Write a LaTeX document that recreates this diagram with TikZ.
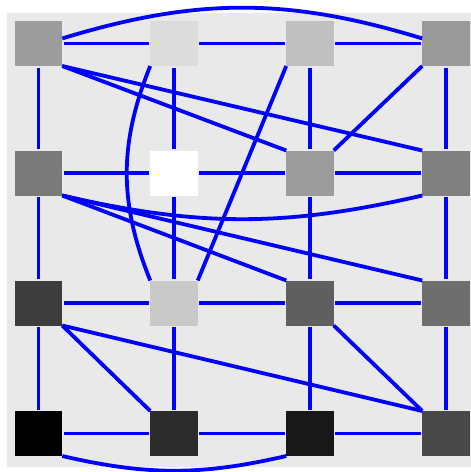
\documentclass[tikz,border=0pt]{standalone}
\begin{document}
\begin{tikzpicture}[x=1pt,y=-1pt,
  box/.style={draw=none,rectangle,minimum width=47.5pt,minimum height=45pt,inner sep=0pt,outer sep=0pt},
  edge/.style={draw=blue,line width=3.8pt,shorten <=1.5pt,shorten >=1.5pt},
  cedge/.style={draw=blue,line width=3.8pt}]
\useasboundingbox (0,0) rectangle (471,472);
\fill[color={rgb,255:red,233;green,233;blue,233}] (7,13) rectangle (471,467);
% nodes
\node[box,fill={rgb,255:red,157;green,157;blue,157}] (A0) at (38.5,43.5) {};
\node[box,fill={rgb,255:red,220;green,220;blue,220}] (A1) at (174,43.5) {};
\node[box,fill={rgb,255:red,192;green,192;blue,192}] (A2) at (310,43.5) {};
\node[box,fill={rgb,255:red,154;green,154;blue,154}] (A3) at (446,43.5) {};
\node[box,fill={rgb,255:red,122;green,122;blue,122}] (B0) at (38.5,173) {};
\node[box,fill=white] (B1) at (174,173) {};
\node[box,fill={rgb,255:red,156;green,156;blue,156}] (B2) at (310,173) {};
\node[box,fill={rgb,255:red,128;green,128;blue,128}] (B3) at (446,173) {};
\node[box,fill={rgb,255:red,61;green,61;blue,61}] (C0) at (38.5,303) {};
\node[box,fill={rgb,255:red,201;green,201;blue,201}] (C1) at (174,303) {};
\node[box,fill={rgb,255:red,95;green,95;blue,95}] (C2) at (310,303) {};
\node[box,fill={rgb,255:red,110;green,110;blue,110}] (C3) at (446,303) {};
\node[box,fill=black] (D0) at (38.5,433.5) {};
\node[box,fill={rgb,255:red,43;green,43;blue,43}] (D1) at (174,433.5) {};
\node[box,fill={rgb,255:red,24;green,24;blue,24}] (D2) at (310,433.5) {};
\node[box,fill={rgb,255:red,72;green,72;blue,72}] (D3) at (446,433.5) {};
% horizontal edges
\foreach \r in {A,B,C,D}{
  \draw[edge] (\r0) -- (\r1);
  \draw[edge] (\r1) -- (\r2);
  \draw[edge] (\r2) -- (\r3);
}
% vertical edges
\foreach \c in {0,1,2,3}{
  \draw[edge] (A\c) -- (B\c);
  \draw[edge] (B\c) -- (C\c);
  \draw[edge] (C\c) -- (D\c);
}
% diagonal edges
\draw[cedge] (A0.south east) -- (B2.north west);
\draw[cedge] (A0.south east) -- (B3.north west);
\draw[cedge] (A2.south west) -- (C1.north east);
\draw[cedge] (A3.south west) -- (B2.north east);
\draw[cedge] (B0.south east) -- (C2.north west);
\draw[cedge] (B0.south east) -- (C3.north west);
\draw[cedge] (C0.south east) -- (D1.north west);
\draw[cedge] (C0.south east) -- (D3.north west);
\draw[cedge] (C2.south east) -- (D3.north west);
% curved edges
\draw[cedge] (A0.12) to[bend left=17] (A3.168);
\draw[cedge] (A1.south west) to[bend right=22] (C1.north west);
\draw[cedge] (B0.south east) to[bend right=13] (B3.south west);
\draw[cedge] (D0.south east) to[bend right=13] (D2.south west);
\end{tikzpicture}
\end{document}
